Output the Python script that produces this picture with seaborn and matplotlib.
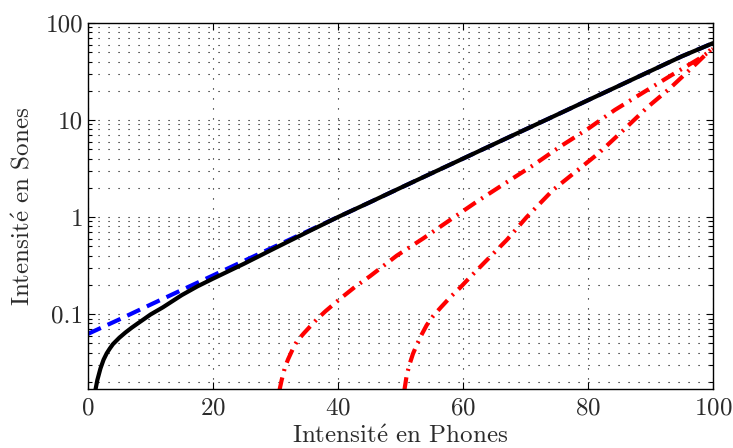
import numpy as np
import pandas as pd
import matplotlib
matplotlib.use("Agg")
import matplotlib.pyplot as plt
import matplotlib.ticker as mticker
import seaborn as sns

# Loudness in sones vs. loudness level in phons
phones_black = [1.2, 1.5, 2, 2.5, 3, 3.5, 4, 5, 6, 7, 8, 9, 10, 12, 15, 17.5,
                20, 25, 30, 35, 40, 45, 50, 55, 60, 65, 70, 75, 80, 85, 90, 95,
                100]
sones_black = [0.0166, 0.0209, 0.0275, 0.0339, 0.0394, 0.0442, 0.049, 0.0569,
               0.0646, 0.0724, 0.0804, 0.0891, 0.0989, 0.1175, 0.1567, 0.1928,
               0.2317, 0.331, 0.481, 0.695, 1.0, 1.41, 2.0, 2.83, 4.0, 5.66,
               8.0, 11.3, 16.0, 22.6, 32.0, 45.3, 62.0]

phones_blue = [0, 5, 10, 15, 20, 25, 30, 35, 40, 45, 50, 55, 60, 65, 70, 75,
               80, 85, 90, 95, 100]
sones_blue = [0.0625, 0.088, 0.125, 0.177, 0.25, 0.354, 0.50, 0.707, 1.0, 1.41,
              2.0, 2.83, 4.0, 5.66, 8.0, 11.3, 16.0, 22.6, 32.0, 45.3, 62.0]

phones_red1 = [30.6, 31.0, 31.5, 32.0, 32.5, 33.0, 33.5, 34.5, 35.5, 36.6,
               38.0, 40.3, 42.7, 45.1, 49.4, 53.6, 57.9, 62.2, 66.7, 71.3,
               75.5, 80.1, 84.3, 88.6, 93.4, 97.9, 100]
sones_red1 = [0.0160, 0.021, 0.028, 0.034, 0.040, 0.047, 0.053, 0.063, 0.074,
              0.088, 0.107, 0.143, 0.19, 0.245, 0.40, 0.60, 0.93, 1.44, 2.22,
              3.44, 5.3, 8.2, 12.7, 18.8, 29.1, 43.3, 54.0]

phones_red2 = [50.6, 51.0, 51.5, 52.0, 52.6, 53.3, 54.2, 55.2, 56.5, 58.0,
               59.5, 61.0, 63.3, 67.0, 70.2, 74.4, 77.7, 81.7, 85.7, 89.6,
               93.1, 97.4, 100]
sones_red2 = [0.0160, 0.0235, 0.031, 0.039, 0.048, 0.060, 0.077, 0.095, 0.118,
              0.150, 0.186, 0.235, 0.333, 0.58, 1.0, 1.9, 2.82, 4.54, 7.9,
              13.7, 21.2, 38.5, 56.0]

sns.set_style("ticks")
plt.rcParams['font.family'] = ['cmr10', 'DejaVu Serif']
plt.rcParams['mathtext.fontset'] = 'cm'
plt.rcParams['axes.formatter.use_mathtext'] = True
text_color = '#2b2b2b'

fig = plt.figure(figsize=(7.33, 4.48), dpi=100)
ax = fig.add_axes([0.120, 0.1317, 0.8527, 0.817])

dot_style = (0, (1, 8))
ax.set_yscale('log')
ax.grid(axis='y', which='both', color='k', linewidth=0.8, linestyle=dot_style)
ax.grid(axis='x', which='major', color='k', linewidth=0.8, linestyle=dot_style)
ax.set_axisbelow(True)

sns.lineplot(x=phones_blue, y=sones_blue, color='#0000ff', linewidth=3,
             linestyle=(0, (3.4, 1.8)), ax=ax)
sns.lineplot(x=phones_black, y=sones_black, color='black', linewidth=3, ax=ax)
dashdot = (0, (3.4, 1.6, 0.5, 1.6))
sns.lineplot(x=phones_red1, y=sones_red1, color='#ff0000', linewidth=3,
             linestyle=dashdot, ax=ax)
sns.lineplot(x=phones_red2, y=sones_red2, color='#ff0000', linewidth=3,
             linestyle=dashdot, ax=ax)

ax.set_xlim(0, 100)
ax.set_ylim(0.0169, 100)
ax.set_xticks([0, 20, 40, 60, 80, 100])
ax.set_yticks([0.1, 1, 10, 100])
ax.yaxis.set_major_formatter(mticker.FixedFormatter(['0.1', '1', '10', '100']))
ax.yaxis.set_minor_locator(mticker.LogLocator(base=10, subs=np.arange(2, 10)))
ax.yaxis.set_minor_formatter(mticker.NullFormatter())

ax.tick_params(which='both', direction='in', top=True, right=True,
               labelsize=18, labelcolor=text_color, color='k')
ax.tick_params(axis='x', which='major', pad=6)
ax.tick_params(which='major', length=5, width=0.8)
ax.tick_params(which='minor', length=3, width=0.8)
for s in ax.spines.values():
    s.set_linewidth(1.0)
    s.set_color('k')

ax.set_xlabel('Intensit$\\acute{\\mathrm{e}}$ en Phones', fontsize=18,
              color=text_color, labelpad=4)
ax.set_ylabel('Intensit$\\acute{\\mathrm{e}}$ en Sones', fontsize=18,
              color=text_color, labelpad=8)

fig.savefig('out.png', dpi=100)
